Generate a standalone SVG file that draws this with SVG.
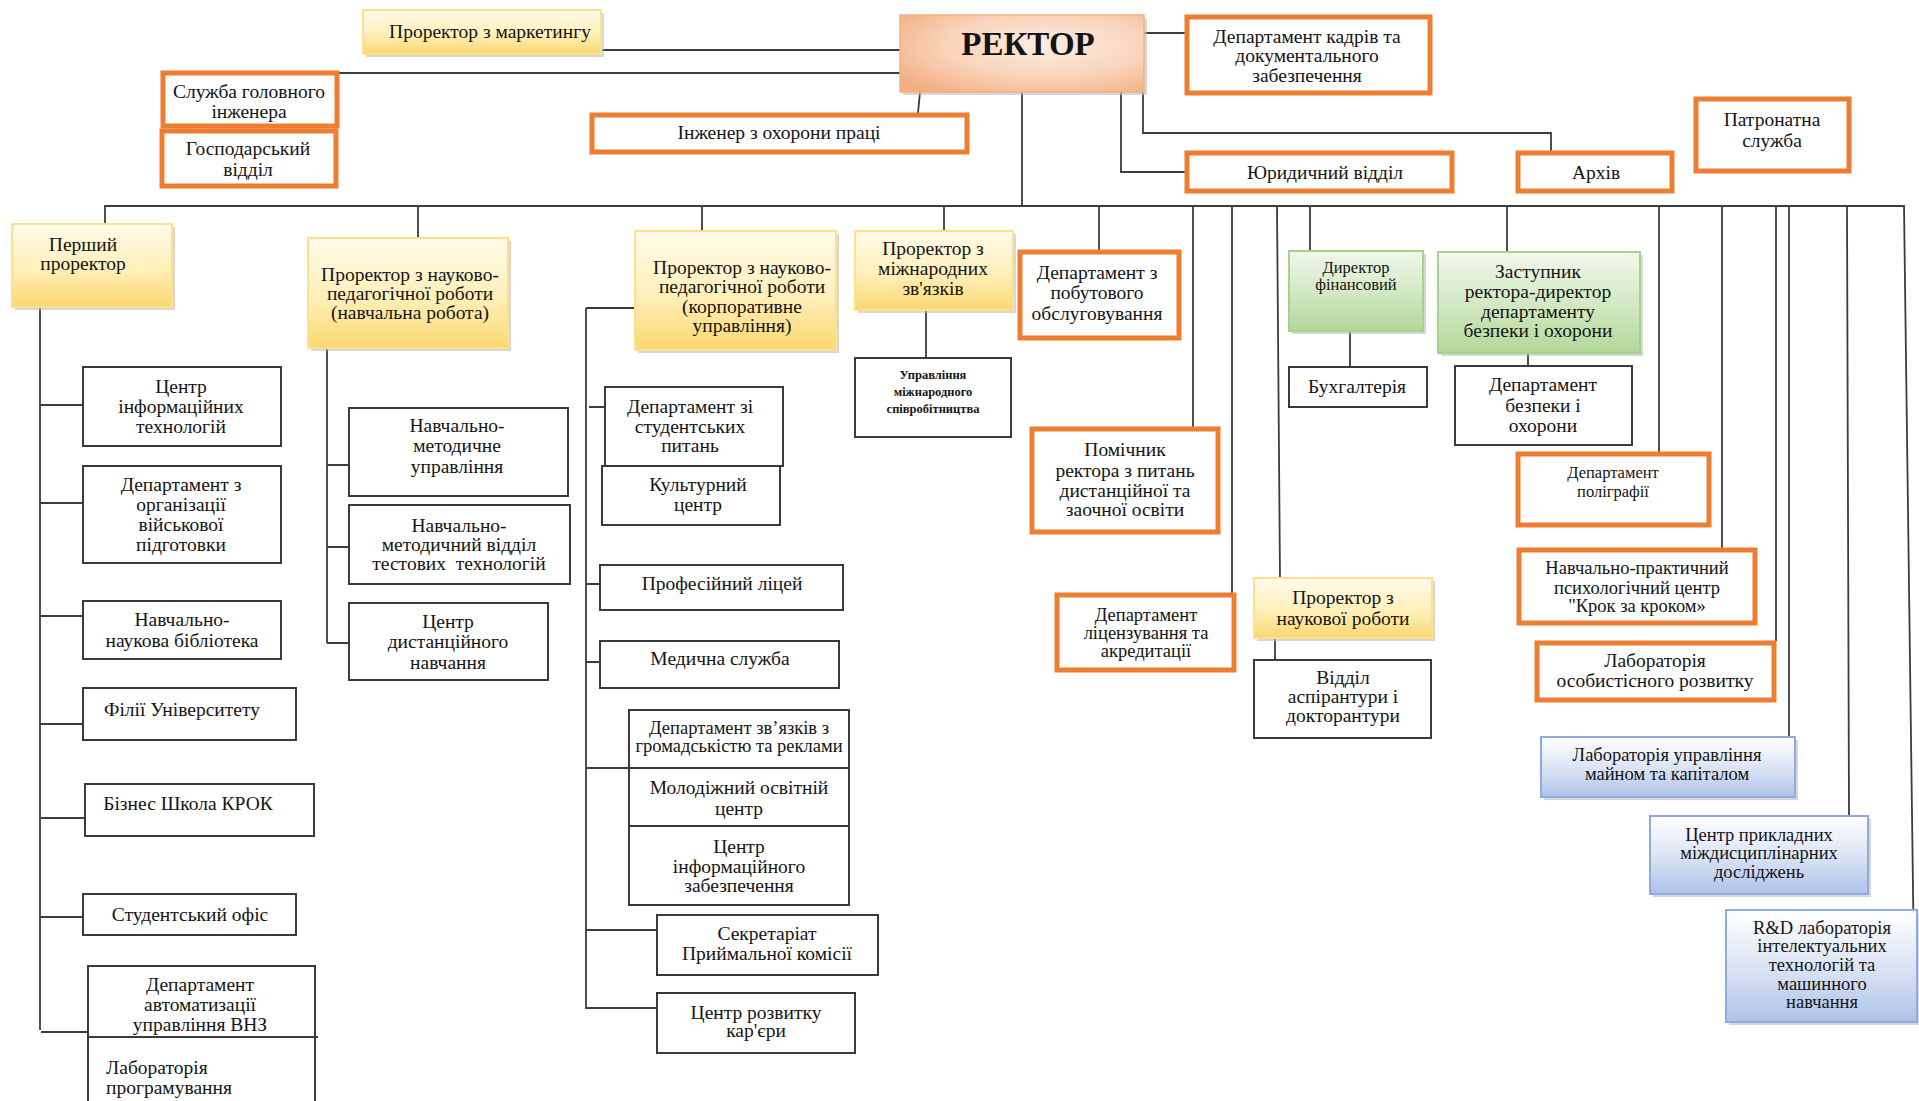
<svg xmlns="http://www.w3.org/2000/svg" width="1919" height="1101" viewBox="0 0 1919 1101">
<defs>
<linearGradient id="gy" x1="0" y1="0" x2="0" y2="1"><stop offset="0" stop-color="#FFFBEC"/><stop offset="0.55" stop-color="#FFEFB8"/><stop offset="1" stop-color="#FAD870"/></linearGradient>
<linearGradient id="gg" x1="0" y1="0" x2="0" y2="1"><stop offset="0" stop-color="#F1F8EC"/><stop offset="0.5" stop-color="#D3E9C4"/><stop offset="1" stop-color="#B3D89A"/></linearGradient>
<linearGradient id="gb" x1="0" y1="0" x2="0" y2="1"><stop offset="0" stop-color="#FFFFFF"/><stop offset="0.5" stop-color="#DCE5F5"/><stop offset="1" stop-color="#ADC2E8"/></linearGradient>
<radialGradient id="gr" cx="0.6" cy="0.4" r="0.75"><stop offset="0" stop-color="#FDEDE3"/><stop offset="0.55" stop-color="#F9D3BA"/><stop offset="1" stop-color="#F2AE82"/></radialGradient>
</defs>
<style>
.t{font-family:"Liberation Serif","Times New Roman",serif;font-size:19.5px;fill:#141414;text-anchor:middle}
.s16{font-size:18.5px}.s15{font-size:18.5px}.s14{font-size:16.5px}.p16{font-size:16.5px}.s12{font-size:12.5px;font-weight:bold}
.ob{fill:#fff;stroke:#ED7D31;stroke-width:5}
.bb{fill:#fff;stroke:#3a3a3a;stroke-width:2}
.yb{fill:url(#gy);stroke:#FFE08A;stroke-width:2}
.gbx{fill:url(#gg);stroke:#A9D18E;stroke-width:2}
.blb{fill:url(#gb);stroke:#8FAADC;stroke-width:2}
.sh{fill:#bdbdbd;opacity:.6}
.ln{stroke:#3c3c3c;stroke-width:1.8;fill:none}
</style>
<rect width="1919" height="1101" fill="#fff"/>
<g id="connectors" class="ln">
<path d="M601,50H900"/>
<path d="M339,73H900"/>
<path d="M920,92L918,113"/>
<path d="M1144,33H1185"/>
<path d="M1143,33V133H1551V151"/>
<path d="M1121,92V172H1185"/>
<path d="M1022,92V206"/>
<path d="M105,224V206H1904L1914,965"/>
<path d="M418,206V238M702,206V231M944,206V231M1099,206V252M1193,206V429M1232,206V595M1310,206V251M1507,206V252M1659,206V454M1722,206V548M1776,206V641M1789,206V737"/>
<path d="M1277,206L1280,578M1847,206L1849,816"/>
<path d="M40,307V1030M40,405H83M40,503H83M40,616H83M40,724H83M41,818H85M40,917H83M41,1032H88"/>
<path d="M327,348V643M327,465H349M327,547H349M327,643H349"/>
<path d="M586,308H635M586,308V1008H657M589,407H605M586,584H600M586,662H600M586,768H629M586,930H657"/>
<path d="M926,310V358M1350,331V367M1528,353V366M1275,638V660"/>
</g>
<g id="rector"><rect x="903" y="18" width="244" height="77" class="sh"/><rect x="900" y="15" width="244" height="77" fill="url(#gr)" stroke="#F4B183" stroke-width="1.5"/><text class="t" x="1028" y="55" style="font-size:33px;font-weight:bold">РЕКТОР</text></g>
<g id="marketing"><rect x="366" y="13" width="238" height="44" class="sh"/><rect x="363" y="10" width="238" height="44" class="yb"/><text class="t" x="490" y="38">Проректор з маркетингу</text></g>
<g id="golovnyi"><rect x="163" y="73" width="174" height="53" class="ob"/><text class="t"><tspan x="249" y="98">Служба головного</tspan><tspan x="249" y="118">інженера</tspan></text></g>
<g id="gospod"><rect x="162" y="131" width="174" height="55" class="ob"/><text class="t"><tspan x="248" y="155">Господарський</tspan><tspan x="248" y="176">відділ</tspan></text></g>
<g id="inzhener"><rect x="592" y="115" width="375" height="37" class="ob"/><text class="t" x="779" y="139">Інженер з охорони праці</text></g>
<g id="kadry"><rect x="1187" y="17" width="243" height="76" class="ob"/><text class="t"><tspan x="1307" y="43">Департамент кадрів та</tspan><tspan x="1307" y="62">документального</tspan><tspan x="1307" y="82">забезпечення</tspan></text></g>
<g id="yuryd"><rect x="1187" y="153" width="265" height="38" class="ob"/><text class="t" x="1325" y="179">Юридичний відділ</text></g>
<g id="arkhiv"><rect x="1518" y="153" width="154" height="38" class="ob"/><text class="t" x="1596" y="179">Архів</text></g>
<g id="patron"><rect x="1696" y="99" width="153" height="72" class="ob"/><text class="t"><tspan x="1772" y="126">Патронатна</tspan><tspan x="1772" y="147">служба</tspan></text></g>
<g id="pershyi"><rect x="15" y="227" width="160" height="83" class="sh"/><rect x="12" y="224" width="160" height="83" class="yb"/><text class="t"><tspan x="83" y="251">Перший</tspan><tspan x="83" y="270">проректор</tspan></text></g>
<g id="prorector_nav"><rect x="311" y="241" width="200" height="110" class="sh"/><rect x="308" y="238" width="200" height="110" class="yb"/><text class="t"><tspan x="410" y="281">Проректор з науково-</tspan><tspan x="410" y="300">педагогічної роботи</tspan><tspan x="410" y="319">(навчальна робота)</tspan></text></g>
<g id="centr_it"><rect x="83" y="367" width="198" height="79" class="bb"/><text class="t"><tspan x="181" y="393">Центр</tspan><tspan x="181" y="413">інформаційних</tspan><tspan x="181" y="433">технологій</tspan></text></g>
<g id="viysk"><rect x="83" y="466" width="198" height="97" class="bb"/><text class="t"><tspan x="181" y="491">Департамент з</tspan><tspan x="181" y="511">організації</tspan><tspan x="181" y="531">військової</tspan><tspan x="181" y="551">підготовки</tspan></text></g>
<g id="biblio"><rect x="83" y="601" width="198" height="58" class="bb"/><text class="t"><tspan x="182" y="626">Навчально-</tspan><tspan x="182" y="647">наукова бібліотека</tspan></text></g>
<g id="filii"><rect x="83" y="688" width="213" height="52" class="bb"/><text class="t" x="182" y="716">Філії Університету</text></g>
<g id="biznes"><rect x="85" y="784" width="229" height="52" class="bb"/><text class="t" x="188" y="810">Бізнес Школа КРОК</text></g>
<g id="stud_ofis"><rect x="83" y="894" width="213" height="41" class="bb"/><text class="t" x="190" y="921">Студентський офіс</text></g>
<g id="avtomat"><rect x="88" y="966" width="227" height="71" class="bb"/><text class="t"><tspan x="200" y="991">Департамент</tspan><tspan x="200" y="1011">автоматизації</tspan><tspan x="200" y="1031">управління ВНЗ</tspan></text></g>
<g id="lab_prog"><path d="M88,1037V1110M315,1037V1110M88,1037H318" class="bb"/><text class="t" style="text-anchor:start"><tspan x="106" y="1074">Лабораторія</tspan><tspan x="106" y="1094">програмування</tspan></text></g>
<g id="nav_metod"><rect x="349" y="408" width="219" height="88" class="bb"/><text class="t"><tspan x="457" y="432">Навчально-</tspan><tspan x="457" y="452">методичне</tspan><tspan x="457" y="473">управління</tspan></text></g>
<g id="testovi"><rect x="349" y="505" width="221" height="79" class="bb"/><text class="t"><tspan x="459" y="532">Навчально-</tspan><tspan x="459" y="551">методичний відділ</tspan><tspan x="459" y="570" xml:space="preserve">тестових  технологій</tspan></text></g>
<g id="dystan"><rect x="349" y="603" width="199" height="77" class="bb"/><text class="t"><tspan x="448" y="628">Центр</tspan><tspan x="448" y="648">дистанційного</tspan><tspan x="448" y="669">навчання</tspan></text></g>
<g id="prorector_korp"><rect x="638" y="234" width="201" height="119" class="sh"/><rect x="635" y="231" width="201" height="119" class="yb"/><text class="t"><tspan x="742" y="274">Проректор з науково-</tspan><tspan x="742" y="293">педагогічної роботи</tspan><tspan x="742" y="313">(корпоративне</tspan><tspan x="742" y="332">управління)</tspan></text></g>
<g id="stud_pytan"><rect x="605" y="387" width="178" height="79" class="bb"/><text class="t"><tspan x="690" y="413">Департамент зі</tspan><tspan x="690" y="433">студентських</tspan><tspan x="690" y="452">питань</tspan></text></g>
<g id="kult"><rect x="602" y="466" width="178" height="59" class="bb"/><text class="t"><tspan x="698" y="491">Культурний</tspan><tspan x="698" y="511">центр</tspan></text></g>
<g id="licei"><rect x="600" y="565" width="243" height="45" class="bb"/><text class="t" x="722" y="590">Професійний ліцей</text></g>
<g id="medych"><rect x="600" y="641" width="239" height="47" class="bb"/><text class="t" x="720" y="665">Медична служба</text></g>
<g id="zvyazky"><rect x="629" y="710" width="220" height="58" class="bb"/><text class="t s16"><tspan x="739" y="734">Департамент зв’язків з</tspan><tspan x="739" y="752">громадськістю та реклами</tspan></text></g>
<g id="molod"><rect x="629" y="768" width="220" height="58" class="bb"/><text class="t"><tspan x="739" y="794">Молодіжний освітній</tspan><tspan x="739" y="815">центр</tspan></text></g>
<g id="info_zab"><rect x="629" y="826" width="220" height="79" class="bb"/><text class="t"><tspan x="739" y="853">Центр</tspan><tspan x="739" y="873">інформаційного</tspan><tspan x="739" y="892">забезпечення</tspan></text></g>
<g id="sekret"><rect x="657" y="915" width="221" height="60" class="bb"/><text class="t"><tspan x="767" y="940">Секретаріат</tspan><tspan x="767" y="960">Приймальної комісії</tspan></text></g>
<g id="karyera"><rect x="657" y="993" width="198" height="60" class="bb"/><text class="t"><tspan x="756" y="1019">Центр розвитку</tspan><tspan x="756" y="1037">кар'єри</tspan></text></g>
<g id="prorector_mizh"><rect x="858" y="234" width="158" height="79" class="sh"/><rect x="855" y="231" width="158" height="79" class="yb"/><text class="t"><tspan x="933" y="255">Проректор з</tspan><tspan x="933" y="275">міжнародних</tspan><tspan x="933" y="295">зв'язків</tspan></text></g>
<g id="upr_mizh"><rect x="855" y="358" width="156" height="79" class="bb"/><text class="t s12"><tspan x="933" y="379">Управління</tspan><tspan x="933" y="396">міжнародного</tspan><tspan x="933" y="413">співробітництва</tspan></text></g>
<g id="pobut"><rect x="1020" y="252" width="159" height="86" class="ob"/><text class="t"><tspan x="1097" y="279">Департамент з</tspan><tspan x="1097" y="299">побутового</tspan><tspan x="1097" y="320">обслуговування</tspan></text></g>
<g id="pomichnyk"><rect x="1032" y="429" width="186" height="103" class="ob"/><text class="t"><tspan x="1125" y="456">Помічник</tspan><tspan x="1125" y="477">ректора з питань</tspan><tspan x="1125" y="497">дистанційної та</tspan><tspan x="1125" y="516">заочної освіти</tspan></text></g>
<g id="licenz"><rect x="1057" y="595" width="177" height="75" class="ob"/><text class="t s16"><tspan x="1146" y="621">Департамент</tspan><tspan x="1146" y="639">ліцензування та</tspan><tspan x="1146" y="657">акредитації</tspan></text></g>
<g id="prorector_nauk"><rect x="1257" y="581" width="178" height="60" class="sh"/><rect x="1254" y="578" width="178" height="60" class="yb"/><text class="t"><tspan x="1343" y="604">Проректор з</tspan><tspan x="1343" y="625">наукової роботи</tspan></text></g>
<g id="aspirant"><rect x="1254" y="660" width="177" height="78" class="bb"/><text class="t"><tspan x="1343" y="684">Відділ</tspan><tspan x="1343" y="703">аспірантури і</tspan><tspan x="1343" y="722">докторантури</tspan></text></g>
<g id="dyr_fin"><rect x="1292" y="254" width="134" height="80" class="sh"/><rect x="1289" y="251" width="134" height="80" class="gbx"/><text class="t s14"><tspan x="1356" y="273">Директор</tspan><tspan x="1356" y="290">фінансовий</tspan></text></g>
<g id="buhg"><rect x="1289" y="367" width="138" height="40" class="bb"/><text class="t" x="1357" y="393">Бухгалтерія</text></g>
<g id="zastupnyk"><rect x="1441" y="255" width="202" height="101" class="sh"/><rect x="1438" y="252" width="202" height="101" class="gbx"/><text class="t"><tspan x="1538" y="278">Заступник</tspan><tspan x="1538" y="298">ректора-директор</tspan><tspan x="1538" y="318">департаменту</tspan><tspan x="1538" y="337">безпеки і охорони</tspan></text></g>
<g id="bezpeky"><rect x="1455" y="366" width="177" height="79" class="bb"/><text class="t"><tspan x="1543" y="391">Департамент</tspan><tspan x="1543" y="412">безпеки і</tspan><tspan x="1543" y="432">охорони</tspan></text></g>
<g id="poligraf"><rect x="1518" y="454" width="191" height="71" class="ob"/><text class="t p16"><tspan x="1613" y="478">Департамент</tspan><tspan x="1613" y="497">поліграфії</tspan></text></g>
<g id="psyh"><rect x="1519" y="550" width="236" height="73" class="ob"/><text class="t s15"><tspan x="1637" y="574">Навчально-практичний</tspan><tspan x="1637" y="594">психологічний центр</tspan><tspan x="1637" y="612">"Крок за кроком»</tspan></text></g>
<g id="osobyst"><rect x="1537" y="643" width="237" height="57" class="ob"/><text class="t"><tspan x="1655" y="667">Лабораторія</tspan><tspan x="1655" y="687">особистісного розвитку</tspan></text></g>
<g id="lab_maino"><rect x="1544" y="740" width="254" height="60" class="sh"/><rect x="1541" y="737" width="254" height="60" class="blb"/><text class="t s15"><tspan x="1667" y="761">Лабораторія управління</tspan><tspan x="1667" y="780">майном та капіталом</tspan></text></g>
<g id="prykladni"><rect x="1653" y="819" width="218" height="78" class="sh"/><rect x="1650" y="816" width="218" height="78" class="blb"/><text class="t s15"><tspan x="1759" y="841">Центр прикладних</tspan><tspan x="1759" y="859">міждисциплінарних</tspan><tspan x="1759" y="878">досліджень</tspan></text></g>
<g id="rnd"><rect x="1729" y="913" width="191" height="112" class="sh"/><rect x="1726" y="910" width="191" height="112" class="blb"/><text class="t s15"><tspan x="1822" y="934">R&amp;D лабораторія</tspan><tspan x="1822" y="952">інтелектуальних</tspan><tspan x="1822" y="971">технологій та</tspan><tspan x="1822" y="990">машинного</tspan><tspan x="1822" y="1008">навчання</tspan></text></g>
</svg>
